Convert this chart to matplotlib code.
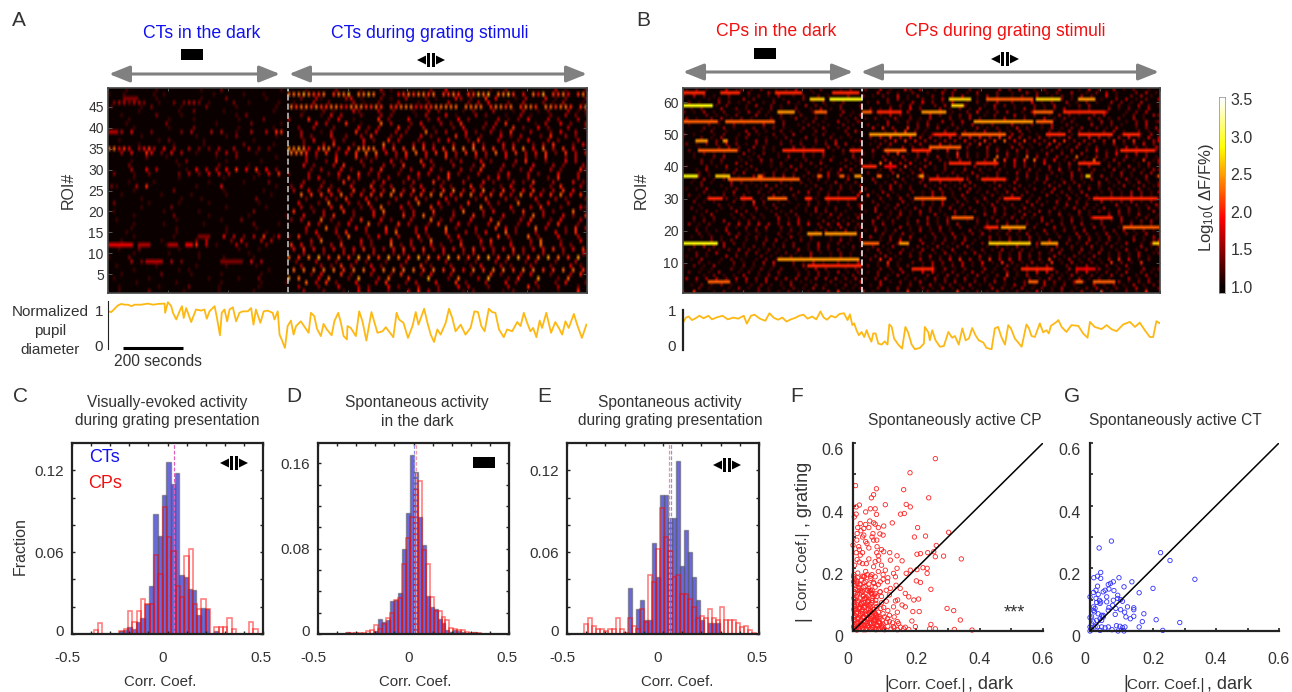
import numpy as np
import matplotlib
matplotlib.use('Agg')
import matplotlib.pyplot as plt
from matplotlib.patches import Rectangle, Polygon
from matplotlib.transforms import ScaledTranslation

plt.rcParams['font.family'] = ['Liberation Sans', 'DejaVu Sans']
plt.rcParams['mathtext.default'] = 'regular'
W, H = 1292, 692
TXT = '#333333'

# ---------- heat-map spots: digit = level (0-9), '.' = baseline; dark part | grating part; top row first
heat_a = [
"..1.....1........1...2...........1.|..1.....2....1...3.1.......2..4....1...1..2.........3.1....2",
"1..1.....1.1.........1.....1...1...|66676556.5667.6676.2..45656656.5565.55767.6675.4.647.5564.566",
"...2...1........1....2.......1.....|2..31....34.1...2.1..3...2.1...43.2..5.4...1.3...4.1.2...3.2",
"2332332..1..2.2332.1....2..1.....1.|1...3..2....3.1..2...3...1.2...3...2.3.4...2..3...2.1.3...1.",
"1.....1.2.....1....2.....1.......1.|6566565566546665565.55666445566666.6666.56656.5665.665665.56",
"...1.......1..2.....1.........1....|1...2.1...42...3..2...1..3.2....1.2...3...1.3..1.2...3.1...2",
".1......2....1..........1.2........|.2...1.4.3...2...3.2....1.3...4.1...3.2...1..3.1...2..3.2..1",
"....1.......1....1........1....2...|3...5...2.4..1....5.2...4...2.3...4.2.....3.1.2.4...3.2...3.",
"1.......2.........1......2.....1...|..4.3...5..1...6.3...2.4...3.2.5....2.3.5.....1.3..4.2...3..",
"...1......1....2........1......1...|2..3...2....4.2.3...5.2..3.1...2.4...2.3...5.2..4.2...3...2",
"553.4...2.....2.3...3.3..1..3..3.55|..3...1.3....5.2.4...3.2...6.2.3...4.2..3.2.5...3...2.4..3.",
"....1..........1.....1.2.......1...|3.2...4..2..3.5...2.3...4.2....5.3..2...4.2.3...2.5..3.2...",
".1.......1.2......1.........1......|..2.4...3.2...4.2..5.3...2...3.4...2.5...3...2.4...3.2...3.",
"...1......1.....1.......2.....1....|2...3.5...2.3...6.2...3.4.2...3...5.2...4.3...2.3.5...2.4..",
"66454.3453.4.3..3.2.2.3..3..3.2.2..|76764.566.3.5.6666.4.5.5.6.5.4.5.6.6.6.5.5.3.5.6.4.6.3.5.4.",
"..3.4..54.2.4.3..1...2.3.2...1.....|6665.3.5.2.4.5.6.6.4.3.5.6.4.5.5.3.5.5.3.6.4.5.3.4.5.2.5.3.4",
"......2...1.........1...2.......1..|..3.2...4...5.2.3...2.4...3...5.2...3.2...4...3.2.5...2.3..",
".1........1.2.......1......1.......|3...2.5....3.2...4.2...5.3...2.3...4.2....3.5...2...4.3...",
"...2.........1.......2.....1.......|..4.2...3.5...2...3.2.5...4.2...3...2.5...3.2...4...3.2...3",
"..3..4.3.....1.4.3.3.4.5.4.5.4.2...|..2.3...4.2...3.5...2.3...4.2...3.2.5...3...2.4...3.2...5.2",
".2...1..2.....2.3.2.4.4.3.....2.4.5|2...3...2.4...5.2.3...2...4.3...5.2...3...2.4...3.2...4...3",
"...1........1........1.....1.......|..3.4...2.5.3...2.3...4.2...3.5...2...3.4.2...3...2.5...3..",
".1....1..........1......1....2.....|3...2...5.2...3.4...2.3...5.2...3...4.2...3.2.5...3...4.2..",
"21...3.5.........1....4..........1.|2.4...3.2...4...5.2.3...2.4...3.2...5.3...2.4...3...2.5...3",
"....1.......2.........1.......1....|3..4.2.5.3..5.2.4.3.6.3.5.4.2.5.6.3.4.6.2.5.3.4.5.2.3.5.4.",
".1.......1.....1......1........1...|.6.5.5.4.6.3.4.5.5.6.5.3.5.6.6.4.5.6.4.5.5.3.6.5.4.5.6.4.5",
"...1.......1...1..........2........|2...3.2.5...4.2...3...5.2...4.3...2.5...3.2...4...3.2...5.2",
".2......1.....1.....1.........1....|..4...2.6...3.2.5...2...3.6...4.2...5...3.2...6...2.4...3..",
"....1.....2..........1.......1.....|3.2...4.5...2.3.6...4.2...5.2...3...6.2...4...3.5...2...4.2",
"1.........1......1..........2......|5...2.3...5.2...4.6...2.3...5...2.6...3.4...2.5...3.2...6..",
"..1.......2......1.......1.......1.|4...3.5...2...4.2...5.3.6.2...3...5.2...4...2.6.3...4.2...5",
".1...........1........1...2........|2.3...6.2...3.5...4.2...3...6.2.3...4...5.2...3.5...2.4...3",
"...1.....1.......1.........2....1..|..5.3...2.4...6.2...5.3...2.5...4.2...3.6...2.4...3.5...2..",
".1........1.........1.....1........|3...6.2...4.3...5.2...3.4...6.2...3...5.4.2...6.3...2.5...3",
"..1.........1.........1.......1....|..2.4...3.5...2...4.6...3.2...5...3.2.4...6.2...3...4.2.5..",
".....1.......1......2..4.3.2.3.5.14|2.5...3...2.6...2.4...3...5.2...3.4...2...5.3...6.2...4...3",
"1.......1......2.3....2.4...3.3....|..3.6...2...4.2...5...3.2.6...2.3...4.5...2...3.6...2...4..",
"66544.55...1.3.3.5.3.1...3.2...2...|5.4.2...3.5...3.2...6.2.3...4.2...5...2.3...4...2.6...3.2..",
".1...2.......1...........1...1.....|4.5.4.3.4.3.4.5.3.3.4.5.4.5.3.4.4.3.5.4.3.4.5.3.4.4.5.3.4.5",
"..1......1.....1.........1.........|3...2...3.2...3...2.3...2...3...2.3...2...3.2...3...2...3.2",
"1...2.............1....1.....1.....|6.5.6.7.5.6.5.7.6.5.7.6.5.7.6.5.7.6.5.6.7.5.6.7.5.6.7.6.5.7",
"...3.2.4.4.3.2.......2.5.4.4.3.....|2...3...2...3.2...2...3...2...3...1.2...3.2...2.3...2...3..",
".1.......1.......1.....1.....1.....|..3...3.2.5.3...4.2...3...5.2...3...2.4...3.2...3...2...4.2",
"....1........1.1...............1...|6.6.6.6.6.5.6.6.4.6.6.6.6.5.6.5.5.4.6.5.6.6.5.6.6.5.5.6.6.5",
"1.......2.....1.....1.......1......|..2.4...5.2...3...2.5...2.4...3...2...5.2...3.4...2...3.5..",
".1......1...........1.....1...2....|7.6...4.6...2.7...3.6...5...7...2.6...3.7...2.5...7...2.6..",
"..1.......1........1.......1.....1.|6.3.5.2...4...3.5...2.3...4...5.2...3...4.2...3...2.4...3.2",
"1.......1.....2.....1.......1......|3...2...4...3.2...4.2...3...2...4.3...2...3...5.2...3...2..",
".1.....2......1......1......1......|..3...2...1..4.3...2...3.5.3.2....1.2.....1.2...1....1...5.",
]
# sub-cell offset of each row's spots (half cells), as read from the staggered streaks
stagger_a = [3,0,5,2,1,6,3,0,7,4,1,5,2,6,0,1,3,7,2,5,0,4,6,1,2,3,7,0,5,2,6,1,4,7,3,0,5,1,2,6,0,3,1,2,5,0,7,4,2]

heat_b = [
"1.2.1...3.12.1.2..1.1.3..1.2...1.2.|2..3.1..42.3..1.2.3..2.1...3.2.4..1.2..3...1.4.2..3.1.2..1.",
"........1..2...3..1..2..1...2.1.2..|.3.2.1..2..1..3.2..1.3...2..1..3.2.1.2..3..1.2.3.1...2.3.1.",
"1.3.2.1..2...1.2.1.3..1.2..2.1...2.|3.1.2..4.1.3..2.1.2.3..1.3.2..1.2..3..1.2.1.3.2..4.1..2.3.1",
"..1.2.1..3.2...1.1...2.1.2.1...3.1.|..2.3.1..2.1.3.1.2..1.2.3..1.3.2.1...2.1.3.2.1..2.3.1.2...3",
"2.1...3.2.1.2..1.2..3.1..1.2.1.2...|1.3.2..1.3.4.2.1.3..1.2.1.3..2.1.4.1.2..3.1.2.1..3.2.1.3...",
"2..1.2...1.3..2.1..1.3.2.1..2...1.2|..1.2.3.1..2.3.1.2...1.3.2.1...2.1.3..1.2.3...1.2.1.3.2..1.",
"1.2...3..2.1..1.2.1..2..1.3.1.2...1|2.1.3.1.4.2...3.1.2.1.3..2...1.3.2.1.2.3..1.2...3.1.2.1.3..",
"2.1.3.1.2..1.3.2.1...2.1..2.1...3.1|3.1..2.1.3..1.2.3.1..2.4.1.2.3..1.3.1.2..3.1.2.1.3...1.2.3.",
"..2.1.1.2...3.1..2.1.2..1.1..2.1.3.|.1.3.2.1...3.2.1.2.3..1.2...3.1.2..1.3.2.1..2.3...1.2.1.3.2",
"3.1..2.3.1.2.1...2.1..3.1.2.1...1.2|1.2.1.3..2.1.3...2.1.3.2..1.3.1.2...3.1.2.1..3.2.1.2..3.1..",
"2.1.1...2.1.3..1.2...1.2.1..3.1.2.1|..3.1.2.1.2..3.1.3..2.1...3.2.1..2.3.1.2...1.3.2..1.2.3.1.2",
"1...2.1..2.1...3.1.2..1.2.1.1..2.1.|2.1.3...1.2.3.1..2.1.3.1.2...3.1.2.1.3..2.1..3.1.2.1..2.3..",
"..2.1.3.1...2.1.2.1...2.1.3..1.2...|4.5.3..5.2.1.3.1.2...3.1.2.1.4.2..1.3.1.2.3..2.1.3...1.2.3.",
"1.2..1...3.2.1..2.1.1..2.1...2.3.1.|.1.3.5.2.1...3.1.2.1.3..2.1.3.1...2.1.3.2.1..2.3.1..2.1.3.2",
"2.1...1.2..1.3.1..2.1.3...1.2.1..2.|1.2...3.1.2.1.3..2.1.3.1..2.1.3.2..1.2.3..1.2.1.3...1.2.1.3",
"..2.1.3..1.2...1.1.2...3.1..2.1.1..|2.3.5.3.4.3.3.2.4.3.4.4.3.5.4.3.2.3.2.1.3.1.4.3.2.3.4.2.4.3",
"1...2.1.1...3.2..1.2.1..2.1.3...1.2|1.2.4.5.4.3.2.3.3.4.2.5.5.6.4.5.3.2.5.5.2.3.3.3.5.2.5.1.3.4",
"2.1.2.2.3.2.1.2.1..2.1.2..1.2.4.3..|.1.2.3...1.3.1.4.2.1.3.5.2...1.3.1.2.4.3.1.3.2..1.3.1.2.4.2",
"1...2.3.2..3.2.1...3.2.1..3.2..1.1.|2.1..3.2.1.2..3.1.2.1.3.1..3.2.1..2.3.1.3.1.2...1.3.2.1.3.1",
"2.1.1...2.1.2..1.1.2..1.3..2.1.2.1.|.3.1.3.2..1.3.1.4.2.1...2.3.1.3.2..1.2.1.3..2.4.1.2.1.3.1.2",
"..1.2.1.1...3.1.2..1.1..2.1.3...1.2|2.1..3.5.1.2.3...1.5.2.1.2.1.3.1.2.1.3..2.1.3..1.2.4.1.3.2.",
"1...2.3..1.1.2...1.3..2.1.2.1...3.1|1.2.1.3..2.1.3.1.4.2.1.2.6.2.1.6.3.1.3.2.6.1.3.2.1.3.1.2.1.",
"2.1.2...1.1.3.2..1.1.2..1.3..2.1.2.|.3.1.2.1.3..2.1.3.1..2.6.5.4.5.6.3.4.1.2.1.6.1.3.2.1.5.1.3.",
"..2.1.1..3.2..1.1.2...1.2.3...1.1.2|1.6.5.3.4.1.3..2.1.3.1.2...1.3.2.1.4..1.3.2.1.3.1.2...1.3.2",
"1...2.1.3..1.2...1.1.3.2..1.1...2.1|2.5.2.5.5.1.3.1.2...1.3.1.2.1.3.2.1..3.1.2.1.3...2.1.3.1.2.",
"1.3...1.2.1.2...1.1.3.1..2.1.4.3.1.|.1.3.2.1.3..1.2.1.3..2.1.2...1.3.1.2.4.1.3..2.1.3.1.2.1.3.2",
"..2.1..1.2.3...1.2.1.1..2.1.3.2..1.|2.1..3.1.2.3...1.2.1.3.1..2.1.3.2.1..2.1.3.1.2...1.3.1.2.3.",
"2.1...2.1..3.2.2.3.2.1.1..3.1.2.1.2|3.1.6.1.2.1.3.1.2.1.3.1.2...1.3.1.2.1..3.2.1.3.1.2.1..3.1.6",
"..1.3.1.2.1...1.2.1.3.2..1.2.1...3.|1.3...1.2.1.3.1..2.1.3.1...2.1.3.1.2.3..1.2.1.3..2.1.3.1.2.",
"1.2.1...3.2.1.1...2.1.2.1..1.3.1.2.|.2.1.3.1..2.1.3.1.2.3..1.2.1.3...1.2.1.3.2.1..3.1.2.1.3.1.2",
"2...1.2..1.1.3.2.1...1.2..1.2.1.1.3|1.3.2.1..3.1.2.1.3.2..1.3.1.2.1...3.2.1.3.1.2..1.3.1.2.1.3.",
"1.1.3...1.2.1..1.2.1.3...1.2.1.2.1.|2..1.3.1.2...1.3.1.2.3.1..2.1.3.1.2.1.3..2.1.3.1.2.1...3.1.",
"..2.1.1.3..1.2.1.1...2.3.1.1.2..1.5|1.3.1...2.1.3.2.1..3.1.2.1.3.1.2..1.3.2.1.3...1.2.1.3.2.1.3",
"2.1.1..2.1.2...1.3.1.2..1.1.2.1...4|5.1.3.1.2..1.3.2.1.3...1.2.1.3.2.1..3.1.2.1.3.1..2.1.3.2.1.",
"1.1...2.1.3..1.1.2..1.2.1.3.1..2.1.|.2.1.3.1..2.1.3.1.2.1.3..2.1.3.1.2...1.3.1.2.1.3.2..1.3.1.2",
"..2.1.1...2.1.5.2..1.1...2.1.2.1.1.|1.2.1...3.1.2.1.3..2.1.3.1.2.1...3.2.1.3.1.2.1..3.1.2.3.1.2",
"1...2.1..1.3.1.2.1..1.2.1.1...2.1.3|2.1.3.1..2.1.3.1.2...1.3.1.2.1.3.2..1.3.1.2.1...3.1.2.1.3.1",
"2.1...1.2.1..3.1.2...1.1.3.1.2..1.2|.3.1.2.1.3..2.1.3.1.2..1.3.2.1.3.1...2.1.3.2.1.3..1.2.1.3.1",
"..1.2.1...3.2.1..1.1.2..1.3.2.1.1..|1.3..1.2.1.3.2.1..3.1.2.1.3.1..2.1.3.2.1...3.1.2.1.3.2.1..3",
"1.3...1.2.1.1..2.1.2..1.1.3.2..1.2.|2.1.3.1.2..3.1.2.1...3.1.2.1.3.2..1.3.1.2.1...3.2.1.3.1.2.1",
"2.1.2...1.1.2.1..3.1.2...1.1.2.1.3.|.3.1.2.1...3.1.2.1.3.1..2.1.3.2.1.3...1.2.1.3.1.2.3..1.2.1.",
"..1.2.1.3..1.2.1...2.1.3.1..2.1.1.1|1.3.1.2..1.3.2.1.3...1.2.1.3.1.2.1..3.2.1.3.1...2.1.3.1.2.3",
"3.1.2...3.4.3.4.3.2.3.3.4.2.3.4.3.2|.2.3.1..2.1.3.1.2.3...1.2.1.3.1.2.1.3..2.1.3.1.2...1.3.1.2.",
"1.1...2.1.2.1.3..2.1.1...2.1.3..1.2|2.1..3.1.2.1.3.1.2..1.3.2.1.3.1.2...3.1.2.1.3.2..1.3.1.2.1.",
"..2.1.1.3...1.2.1..1.2.1..1.2.1.3.1|1.3.1.2..1.3.1.2.1...3.1.2.1.3.2.1..3.1.2.1.3...1.2.3.1.2.1",
"2.1...3.2.1.1...2.1.1.2.1..3.1.2.1.|.2.1.3.1...2.1.3.1.2.3..1.2.1.3.1.2.1...3.2.1.3.1.2.1.3..1.",
"1.1.2.1..3.1.2.1..1.3.1.2...1.1.1.2|3.1.2.1.3..1.2.1.3.2..1.3.1.2.1.3.1...2.1.3.2.1.3.1..2.1.3.",
"..2.1.2..1.1.2.3.1..2.1...1.3.1.1.2|1.2.4.1.3..1.2.1.3.1..2.1.3.1.2.1.3...2.1.3.1.2.1..3.1.2.3.",
"2.1.1...3.2.1...2.1.1.2..1.3.1.2.1.|.1.3.1.2.1..3.1.2.1.3.1.2..1.3.2.1.3.1...2.1.3.1.2.1.3..1.2",
"2.3.2.3...1.2.1.1.2.2..1.3.2..1.2.1|2.1.3..1.2.1.3.1.2.3...1.2.1.3.1.2.1.3..2.1.3.1.2.1...3.1.2",
"1...2.1.2.3.2.1.2.1...3.1.2.1.2..1.|1.3.1..2.1.3.2.1.3...1.2.1.3.1.2.1...3.2.1.3.1.2..1.3.1.2.1",
"2.1.3...1.2.2.1.1.2.1..3.1.1.2.1.1.|.2.1.3.1.2..1.3.1.2.3.1..2.1.3.1.2.1.3...2.1.3.1.2.1.3..1.2",
"1.2.1...3.2.1..2.1.1.2.1.3...1.2.1.|1.2.3.1..2.1.3.1.2.1...3.1.2.1.3.2.1..3.1.2.1.3..1.2.1.3.1.",
"1.3...1.2.1..1.2.1.1.3.2.1...1.2.1.|2.5.4.1...3.1.2.4.5.3.2.5.3.4.3.1.2.5.1.3.1.2.1.3.5.4.1.2..",
"2.1.1..2.1.1.3.4...2.1.3.1..2.1.3.1|1.5.1..2.1.3.2.1.3.1.4.1.5.2.1.3.1.5.1.3.1.2.1.5.2.1.5...",
"1.2.1.3...1.2.1.1.2...1.3.1.2.1.1..|.2.1.3.1.2..1.3.1.2.3.1.2..1.3.1.2.1.3...2.1.3.1.2.1.3..1.",
"1.1...2.1.1.2.1.2..1.1.3.2...1.2.1.|2.1.3..1.2.1.3.1.2...3.1.2.1.3.1.2.1..3.2.1.3.1.2.1..3.1.2",
"2.1.1.3...1.2.1.1.2...1.1.2.1.3.1.2|1.2..1.3.1.4.4.1.2.1.3.2.1..3.1.2.4.4.2.1.3.4.1.2.1.3..2.1",
"..1.2.1.1.3..1.2.1...2.1.2.1..1.2.1|.2.1.3.1...2.1.3.2.1.3.1.2.5.1.3.1..2.1.3.1.2.1.3.2..1.3.1",
"3.3.3.3.2.3.3.2.3.3.3.3.2.3.3.3.2.3|1.2.3...1.2.1.3.2.1.3.1.2.1.3.1..2.1.3.2.1.3.1.2.1...3.1.2",
"1...2.1.1.2.1.3..1.2.1.1...2.1.1.3.|.3.1.2.1.3..1.2.3.1.2.1.3.1...2.1.3.2.1.3.1.2..1.3.1.2.3.1",
"1.2.1.2.1...1.2.1.1.3..1.2.1.1.2.1.|1.3...1.2.1.3.1.2.1.3.1.2..1.3.2.1.3.1.2.1...3.1.2.1.3.1.2",
"2.1...1.3.1.2.1..1.2.1.3.2...1.1.2.|2.1.3.1..2.1.3.1.2.1...3.2.1.3.1.2.1.3..1.2.3.1.2.1.3.1..2",
"1.5...1.2.1.1..2.1.1.2.1.1...3.5.1.|5.1..2.1.5.1.2.1...5.1.2.1.3.1.2.1.4..1.2.1.3.1.5.1..2.1.5",
]
stagger_b = [1,4,0,6,2,7,3,0,5,1,6,2,4,7,0,3,5,1,6,2,0,4,7,3,1,5,2,6,0,3,7,1,4,2,5,0,6,3,1,7,4,0,2,5,1,6,3,7,0,4,2,5,1,3,6,0,7,2,4,1,5,3,6,0,2]

# continuous bright bands: ROI, start (s), end (s), level
bands_a = [(12,4,80,4),(12,100,138,3),(12,208,225,3),(12,265,280,4),(39,4,28,3),(47,50,90,2),(8,130,183,3),(8,375,445,2),(14,305,340,2)]
bands_b = [(63,4,70,5),(63,130,190,5),(63,310,400,5),(63,500,590,5),
 (61,429,471,8),(61,493,597,9),(61,897,961,8),(61,1019,1169,6),(61,1190,1261,8),(61,1326,1383,7),
 (59,4,97,9),(59,904,940,8),
 (57,319,369,7),(57,447,483,6),(57,604,626,6),(57,654,726,5),(57,804,876,7),(57,1183,1240,6),(57,1283,1411,5),
 (54,4,111,6),(54,147,304,6),(54,983,1169,7),(54,1190,1240,6),
 (50,626,776,7),(50,847,911,5),(50,940,1083,6),(50,1219,1276,5),(50,1326,1440,5),(50,1476,1526,5),
 (48,43,83,7),(48,140,150,7),
 (45,57,176,6),(45,340,469,5),(45,561,597,5),(45,683,747,6),(45,769,826,5),(45,1469,1583,5),(46,826,926,6),
 (41,897,960,5),(41,990,1054,5),(41,1333,1397,5),(40,604,640,5),(40,683,711,4),
 (37,4,47,9),(37,111,154,8),(37,254,265,6),(37,454,465,6),(37,526,536,6),(37,583,597,7),(37,654,665,6),(37,794,804,7),(37,1351,1361,8),
 (36,154,390,6),(36,826,940,5),(36,1004,1076,5),
 (30,90,133,5),(30,197,233,5),(30,290,347,6),(30,411,433,5),(30,483,583,5),(30,776,880,6),(30,1076,1133,5),(30,1376,1590,5),
 (24,904,969,6),(24,1376,1440,5),(21,1019,1054,5),(21,1069,1147,7),(21,1483,1594,6),
 (19,419,461,7),(19,483,576,7),
 (16,4,111,9),(16,604,654,6),(16,726,754,7),(16,1026,1161,8),(16,1204,1254,7),(16,1583,1600,8),
 (11,322,590,7),(9,419,597,5),(8,769,840,5),(8,1140,1240,5),(8,1320,1380,4),
 (4,90,154,6),(4,1161,1190,6),(4,1319,1340,6),(4,1376,1447,6)]

# ---------- pupil traces
pupil_a_time = [0,11,22,33,44,56,67,78,89,111,133,150,167,189,191,200,211,217,228,239,247,253,261,278,283,294,311,322,330,339,356,364,374,380,389,398,406,417,428,439,450,467,478,486,494,509,520,533,550,556,567,573,580,591,600,611,620,628,644,661,670,678,689,698,711,720,731,747,756,769,778,787,798,
 800,811,828,839,850,863,880,889,900,917,928,942,953,964,972,987,1002,1017,1028,1037,1056,1067,1078,1089,1100,1111,1128,1139,1150,1161,1178,1194,1211,1224,1236,1247,1258,1272,1283,1294,1306,1322,1333,1350,1367,1378,1389,1400,1411,1420,1431,1442,1450,1464,1480,1494,1506,1517,1528,1539,1556,1567,1583,1598]
pupil_a_vals = [.99,.97,1.06,1.15,1.19,1.17,1.17,1.13,1.17,1.17,1.2,1.17,1.19,1.2,.95,1.24,1.13,.95,.77,.99,1.13,.81,1.08,.70,.81,1.04,1.01,1.04,.79,.99,1.13,.81,.34,.95,1.04,.72,1.04,1.1,.72,.95,.99,.99,1.08,.63,1.04,.68,.99,1.01,.95,.77,.99,.36,.23,0,.59,.74,.36,.59,.72,.52,.41,.95,.86,.52,.32,.65,.5,.34,.72,.95,.68,.32,.23,
 .59,.54,.32,.99,.72,.2,.97,.72,.41,.45,.56,.41,.29,.95,.77,.68,.27,.59,.97,.63,1.06,.68,.36,.16,.5,.36,.68,1.06,.81,.45,.63,.36,.54,.99,.97,.59,.45,1.06,.97,.95,.5,.29,.5,.45,.7,.59,.95,.68,.45,.54,.29,.74,.54,.95,.41,.7,.54,.36,.72,.54,.92,.63,.27,.63]
pupil_b_time = [0,10,19,30,40,55,69,85,97,115,133,150,169,185,204,214,228,240,258,276,290,305,319,333,347,362,376,390,404,418,433,447,461,472,483,497,511,525,540,
 543,552,560,568,574,582,590,599,608,616,623,632,638,646,655,666,677,686,692,700,708,722,735,746,755,767,778,795,808,811,823,828,836,847,862,875,890,903,912,925,937,948,959,970,981,992,1007,1018,1035,1046,1057,1068,1080,1091,1100,1113,1136,1152,1160,1169,1180,1197,1208,1219,1227,1234,1253,1259,1270,1286,1303,1326,1342,1357,1365,1381,1404,1421,1437,1454,1477,1499,1516,1532,1549,1566,1577,1588,1600]
pupil_b_vals = [.71,.85,.88,.78,.82,.9,.83,.9,.8,.86,.9,.8,.85,.82,.9,.68,.9,.93,.82,.76,.97,.84,.79,.85,.74,.8,.84,.9,.93,.82,.88,.8,1.02,.85,.79,.9,.85,.95,.97,
 .92,.78,.94,.64,.69,.5,.36,.45,.31,.5,.34,.18,.41,.41,.13,.1,.19,.1,.66,.59,.27,.1,-.01,.59,.44,.1,-.03,.01,.13,.59,.44,.22,.5,.22,.04,.06,.45,.29,.34,.1,.55,.22,.27,.56,.36,.22,.16,.01,-.03,.55,.59,.31,.1,.64,.55,.27,.04,.66,.56,.34,.31,.69,.44,.5,.41,.62,.73,.78,.59,.45,.64,.62,.41,.29,.73,.59,.53,.64,.53,.47,.66,.73,.59,.71,.5,.31,.31,.75,.69]

# ---------- histograms
c_ct = [.002,.003,.005,.004,.009,.012,.022,.035,.088,.072,.102,.126,.11,.118,.043,.042,.033,.032,.014,.019,.018,0,.002]
c_cp = [.003,.008,0,0,0,0,.002,.004,.017,.009,.017,.026,.022,.022,.058,.044,.093,.071,.061,.035,.027,.057,.062,.022,.018,.026,.018,0,.005,.005,.005,.012,.004,0,0,0,.009,.004]
d_ct = [.002,0,0,0,0,.001,0,.003,.014,.011,.013,.031,.032,.038,.08,.113,.168,.152,.11,.083,.036,.025,.023,.014,.01,.004,.002,.004,.003,.002,.001,.001,.002,.001]
d_cp = [.001,.001,.001,.001,.001,.003,.004,.008,.005,.009,.015,.02,.032,.034,.066,.09,.11,.135,.143,.079,.066,.035,.022,.022,.016,.013,.006,.005,.004,.004,.002,.001,.001,.001]
e_ct = [.034,0,.018,.025,.01,.01,.067,.042,.102,.102,.085,.085,.127,.05,.076,.06,.042,.025,.01,0,.008,.008,.008]
e_cp = [.007,.012,.006,.004,.004,.002,.004,.004,.012,.004,.001,.012,.006,.004,.018,.009,.043,.038,.062,.092,.071,.061,.042,.043,.029,.029,.026,.02,.012,.013,.012,.018,.012,.01,.02,.01,.01,.01,.008,.005,.006,.003,.001]
c_starts = (-.255, -.387); d_starts = (-.355, -.355); e_starts = (-.183, -.412)
hist_widths = (.0226, .0209, .0208)

# ---------- scatter
f_dark = [.26,.18,.008,.074,.16,.065,.058,.239,.102,.168,.181,.02,.01,.01,.004,.07,.055,.04,.074,.15,.162,.124,.097,.023,.034,.053,.07,.204,.302,.194,.229,.095,.063,.034,.013,0,.018,.076,.044,.065,.263,.097,.116,.342,.286,.26,.236,.255,.202,.213,.139,.155,.118,.023,.013,.042,.07,.081,.234,.221,.181,.168,.202,.234,.139,.102,.128,.134,.055,.034,.002,.002,.2,.213,.109,.136,.086,.07,.246,.149,.165,.118,.086,.055,.023,.007,.207,.192,.176,.134,.141,.297,.318,.339,.209,.189,.165,.155,.128,.097,.186,.246,.376,.32,.26,.242,.197,.176,.165,.144,.128,.109,.092,.076,
 .01,.02,.03,.04,.05,.06,.07,.08,.09,.1,.11,.12,.13,.14,.15,.16,.005,.015,.025,.035,.045,.055,.065,.075,.085,.095,.105,.115,.125,.14,.005,.015,.025,.035,.045,.055,.065,.075,.085,.1,.115,.13,.005,.012,.022,.03,.04,.05,.06,.07,.08,.095,.11,.14,.003,.012,.02,.03,.038,.048,.056,.066,.075,.088,.004,.014,.024,.034,.044,.05,.06,.072,.09,.105,.003,.012,.022,.032,.04,.048,.06,.075,.09,.115,.005,.015,.03,.045,.06,.07,.085,.105,.005,.012,.022,.035,.05,.065,.08,.095,.11,.003,.015,.03,.04,.06,.08,.095,.005,.02,.03,.05,.065,.08,.09,.01,.02,.03,.05,.075,.09,.012,.03,.04,.06,.075,.085,.015,.025,.04,.05,.065,.08,
 .004,.012,.018,.026,.033,.042,.048,.056,.063,.072,.078,.086,.094,.002,.009,.016,.023,.03,.038,.046,.053,.061,.068,.076,.083,.091,.003,.01,.018,.027,.034,.041,.049,.058,.064,.071,.08,.002,.008,.016,.024,.031,.039,.044,.052,.059,.067,.074,.004,.011,.02,.028,.035,.043,.051,.057,.065,.073,.082,.006,.013,.021,.029,.037,.046,.055,.062,.007,.017,.027,.036,.047,.054,.063,.072,.005,.014,.025,.033,.042,.052,.061,.07,.008,.019,.028,.038,.047,.058,.068,.004,.013,.022,.032,.041,.05,.06,.006,.015,.026,.036,.045,.056,.066]
f_grating = [.55,.505,.464,.454,.451,.435,.425,.425,.403,.404,.396,.402,.396,.373,.364,.39,.39,.38,.372,.373,.375,.345,.335,.343,.327,.351,.341,.33,.315,.3,.303,.306,.311,.306,.311,.274,.269,.269,.279,.29,.273,.253,.25,.23,.239,.237,.25,.253,.245,.247,.24,.224,.226,.242,.228,.215,.221,.226,.2,.202,.194,.184,.196,.184,.2,.194,.184,.173,.175,.173,.173,.157,.16,.155,.157,.146,.157,.173,.133,.136,.12,.136,.125,.13,.13,.12,.102,.099,.109,.096,.099,.072,.065,.035,.062,.062,.077,.083,.077,.075,.032,.021,.003,.005,.007,.007,.014,.005,.012,.024,.014,.04,.035,.046,
 .01,.005,.01,.004,.012,.006,.01,.005,.012,.004,.015,.006,.01,.004,.012,.007,.02,.025,.022,.02,.025,.022,.026,.02,.025,.022,.028,.03,.026,.03,.035,.04,.036,.042,.038,.04,.036,.042,.04,.045,.05,.045,.05,.055,.05,.056,.052,.058,.052,.056,.06,.055,.065,.06,.07,.068,.072,.068,.075,.07,.076,.07,.078,.072,.085,.09,.085,.09,.086,.095,.09,.088,.09,.095,.105,.11,.105,.11,.105,.112,.105,.11,.11,.115,.125,.13,.125,.13,.12,.14,.125,.13,.15,.16,.15,.155,.15,.155,.148,.165,.17,.18,.185,.175,.19,.18,.19,.18,.21,.22,.215,.23,.205,.24,.21,.25,.26,.25,.265,.25,.26,.29,.3,.285,.3,.29,.31,.33,.32,.34,.33,.345,.33,
 .006,.003,.008,.015,.004,.009,.018,.006,.011,.004,.016,.008,.013,.014,.02,.012,.028,.018,.031,.016,.027,.012,.033,.019,.029,.017,.035,.026,.042,.022,.046,.03,.038,.024,.044,.032,.028,.043,.048,.038,.055,.044,.062,.036,.058,.047,.034,.05,.066,.06,.07,.064,.074,.056,.08,.061,.068,.052,.046,.078,.083,.075,.088,.08,.092,.066,.058,.1,.096,.09,.104,.094,.085,.11,.098,.08,.118,.122,.113,.108,.126,.098,.12,.133,.138,.128,.142,.13,.119,.115,.145,.152,.147,.14,.158,.136,.13,.165,.17,.162,.175,.18,.168,.152]
g_dark = [.029,.068,.224,.254,.333,.2,.156,.133,.092,.074,.065,.058,.034,.024,.034,.012,.024,.108,.06,.076,.048,.042,.026,.011,.019,0,.019,.03,.034,.021,.053,.053,.074,.088,.088,.097,.103,.072,.06,.058,.097,.082,.119,.139,.139,.11,.08,.171,.114,.128,.139,.166,.21,.285,.156,.231,.084,.095,.103,.111,.108,.089,.07,.058,.048,.037,.024,.032,.011,.016,.014,.026,.037,.042,.032,0,.005,.011,.021,.005,0,.005,0,.016,.037,.042,.032,.011]
g_grating = [.265,.287,.25,.225,.165,.136,.122,.157,.17,.157,.152,.148,.187,.175,.168,.17,.143,.141,.134,.129,.13,.125,.117,.123,.13,.109,.104,.098,.093,.091,.109,.093,.098,.114,.104,.1,.095,.082,.075,.066,.068,.072,.077,.074,.068,.06,.053,.055,.045,.039,.047,.03,.036,.027,.013,.002,.017,.015,.011,.013,0,0,.004,.013,.01,.013,.013,.002,.077,.072,.061,.055,.05,.045,.039,.043,.045,.029,.034,.023,.013,.004,0,.013,.034,.05,.088,.066]

fig = plt.figure(figsize=(W/100, H/100), dpi=100, facecolor='white')
LEVEL = .21

def axpx(l, t, r, b, **kw):
    return fig.add_axes([l/W, 1-b/H, (r-l)/W, (b-t)/H], **kw)

def shift(lbl, dx, dy):
    lbl.set_transform(lbl.get_transform() + ScaledTranslation(dx/100, -dy/100, fig.dpi_scale_trans))

def parse(rows, stagger, bands):
    n = len(rows)
    M = np.ones((n, 192))
    for i, r in enumerate(rows):
        d, g = r.split('|')
        s = d.ljust(36, '.')[:36] + g.ljust(60, '.')[:60]
        off = stagger[i % len(stagger)]
        for j, c in enumerate(s):
            if c != '.':
                k = 2*j + off
                if j < 36:
                    k = min(k, 71)
                M[i, min(k, 191)] = 1.0 + LEVEL*int(c)
    for roi, t0, t1, lev in bands:
        i = n - roi
        M[i, int(t0/1600*192):int(np.ceil(t1/1600*192))] = 1.0 + LEVEL*lev
    return M

def heat(rect, rows, stagger, bands, ticks, linecol):
    ax = axpx(*rect)
    n = len(rows)
    ax.imshow(parse(rows, stagger, bands), aspect='auto', cmap='hot', vmin=1.0, vmax=3.5,
              extent=[0, 1600, .5, n+.5], origin='upper', interpolation='bilinear')
    ax.axvline(600, color=linecol, ls=(0, (4, 2)), lw=1.1)
    ax.set_yticks(ticks)
    ax.set_xticks(np.arange(0, 1601, 200))
    ax.set_xticklabels([])
    ax.tick_params(axis='y', direction='in', length=3, width=.7, color='#555555',
                   labelsize=10, labelcolor=TXT, pad=3, right=True)
    ax.tick_params(axis='x', direction='in', length=2, width=.7, color='#555555', top=True)
    for s in ax.spines.values():
        s.set_color('#444444'); s.set_linewidth(1.2)
    return ax

heat((108, 88, 587, 293), heat_a, stagger_a, bands_a, np.arange(5, 46, 5), '#cccccc')
heat((683, 88, 1160, 293), heat_b, stagger_b, bands_b, np.arange(10, 61, 10), 'white')

def pupil(rect, t, v, ymin, ymax, lw_sp):
    ax = axpx(*rect)
    n = min(len(t), len(v))
    ax.plot(t[:n], v[:n], color='#fdb813', lw=1.3, solid_joinstyle='round')
    ax.set_xlim(0, 1600); ax.set_ylim(ymin, ymax)
    ax.set_xticks([]); ax.set_yticks([])
    for k in ('top', 'right', 'bottom'):
        ax.spines[k].set_visible(False)
    ax.spines['left'].set_linewidth(lw_sp); ax.spines['left'].set_color('#222222')
    ax.patch.set_alpha(0)
    return ax

pupil((108, 301, 587, 349), pupil_a_time, pupil_a_vals, -.03, 1.27, .8)
pupil((683, 310, 1160, 350), pupil_b_time, pupil_b_vals, -.05, 1.06, 1.6)

# colour bar
cb = axpx(1219, 97, 1225, 293)
cb.imshow(np.linspace(3.53, .92, 256)[:, None], aspect='auto', cmap='hot', vmin=1, vmax=3.5,
          extent=[0, 1, .92, 3.53])
cb.set_xticks([])
cb.yaxis.tick_right()
cb.set_yticks([1, 1.5, 2, 2.5, 3, 3.5])
cb.set_yticklabels(['1.0', '1.5', '2.0', '2.5', '3.0', '3.5'])
cb.tick_params(axis='y', length=0, labelsize=11.5, labelcolor=TXT, pad=4)
for s in cb.spines.values():
    s.set_linewidth(.5); s.set_color('#888888')

def hist(rect, ct, cp, starts, width, ymax, yt, yminor, labs, means):
    ax = axpx(*rect)
    ex = np.arange(len(ct))*width + starts[0] + width/2
    ax.bar(ex, ct, width, color=(.1, .1, .8, .65), edgecolor=(.35, .35, .35, .55), lw=1)
    ex = np.arange(len(cp))*width + starts[1] + width/2
    ax.bar(ex, cp, width, facecolor='none', edgecolor=(1, 0, 0, .5), lw=1.2)
    for m, c in means:
        ax.axvline(m, color=c, ls=(0, (3, 1.5)), lw=.9)
    ax.set_xlim(-.5, .5); ax.set_ylim(0, ymax)
    ax.set_xticks([-.5, 0, .5]); ax.set_xticklabels(['-0.5', '0', '0.5'])
    ax.set_xticks(np.arange(-.4, .41, .1), minor=True)
    ax.set_yticks(yt); ax.set_yticklabels(labs)
    ax.set_yticks(yminor, minor=True)
    ax.tick_params(which='both', direction='in', length=2.5, width=1, top=True, right=True, color='#222222')
    ax.tick_params(axis='x', which='major', labelsize=11, labelcolor=TXT, pad=12)
    ax.tick_params(axis='y', which='major', labelsize=11, labelcolor=TXT, pad=6)
    for s in ax.spines.values():
        s.set_linewidth(1.6); s.set_color('#222222')
    xl = ax.get_xticklabels()
    shift(xl[0], -5, 0); shift(xl[1], -5, 0); shift(xl[2], -2, 0)
    shift(ax.get_yticklabels()[0], 0, -4)
    return ax

w = hist_widths
hist((72, 443, 263, 634), c_ct, c_cp, c_starts, w[0], .14, [0, .06, .12], [.02, .04, .08, .1],
     ['0', '0.06', '0.12'], [(.035, '#e060c0')])
hist((318, 443, 509, 634), d_ct, d_cp, d_starts, w[1], .179, [0, .08, .16], [.02, .04, .06, .1, .12, .14],
     ['0', '0.08', '0.16'], [(.0, '#9090e8'), (.012, '#f0a0a0')])
hist((567, 443, 759, 634), e_ct, e_cp, e_starts, w[2], .14, [0, .06, .12], [.02, .04, .08, .1],
     ['0', '0.06', '0.12'], [(.03, '#f09090'), (.04, '#9090e8')])

def scatter(rect, x, y, col):
    ax = axpx(*rect)
    n = min(len(x), len(y))
    ax.scatter(x[:n], y[:n], s=10, facecolors='none', edgecolors=col, linewidths=.6, clip_on=False, zorder=2)
    ax.plot([0, .6], [0, .6], color='black', lw=1.1, zorder=3)
    ax.set_xlim(0, .6); ax.set_ylim(0, .6)
    ax.set_xticks([0, .2, .4, .6]); ax.set_yticks([0, .2, .4, .6])
    ax.set_xticklabels(['0', '0.2', '0.4', '0.6']); ax.set_yticklabels(['0', '0.2', '0.4', '0.6'])
    ax.set_yticks([.1, .3, .5], minor=True); ax.set_xticks([.1, .3, .5], minor=True)
    ax.tick_params(which='both', direction='in', length=2.5, width=1.2, color='#222222')
    ax.tick_params(axis='x', which='major', labelsize=11.5, labelcolor=TXT, pad=15)
    ax.tick_params(axis='y', which='major', labelsize=11.5, labelcolor=TXT, pad=7)
    for k in ('top', 'right'):
        ax.spines[k].set_visible(False)
    for k in ('left', 'bottom'):
        ax.spines[k].set_linewidth(1.6); ax.spines[k].set_color('#222222')
    ax.patch.set_alpha(0)
    xl = ax.get_xticklabels(); yl = ax.get_yticklabels()
    shift(xl[0], -5, 0)
    for i, l in enumerate(yl):
        shift(l, 0, 6 if i else 5)
    return ax

scatter((853, 443, 1043, 631), f_dark, f_grating, '#ff2020')
scatter((1090, 443, 1279, 631), g_dark, g_grating, '#3030ff')

# ---------- overlay: text and drawn annotations
ov = fig.add_axes([0, 0, 1, 1], zorder=10)
ov.set_xlim(0, W); ov.set_ylim(H, 0); ov.axis('off'); ov.patch.set_alpha(0)

def T(x, y, s, size=10, color=TXT, ha='center', va='center', rot=0):
    ov.text(x, y, s, fontsize=size, color=color, ha=ha, va=va, rotation=rot)

for s, x, y in [('A', 19, 21), ('B', 643, 21), ('C', 20, 396), ('D', 294, 396), ('E', 544, 396), ('F', 797, 396), ('G', 1072, 396)]:
    T(x, y, s, 15)

T(202, 33, 'CTs in the dark', 12.7, '#1010f0')
T(430, 33, 'CTs during grating stimuli', 12.7, '#1010f0')
T(776, 32, 'CPs in the dark', 12.7, '#f01010')
T(1005, 32, 'CPs during grating stimuli', 12.7, '#f01010')

def darrow(x0, x1, y):
    ov.annotate('', xy=(x0, y), xytext=(x1, y),
                arrowprops=dict(arrowstyle='<|-|>,head_length=1.25,head_width=.5', color='#808080', lw=2.2, shrinkA=0, shrinkB=0))

for x0, x1, y in [(109, 280, 74), (289, 587, 74), (683, 853, 72), (861, 1159, 72)]:
    darrow(x0, x1, y)

def blackbox(x0, y0, x1, y1):
    ov.add_patch(Rectangle((x0, y0), x1-x0, y1-y0, color='black', lw=0))

def grating(cx, cy):
    ov.add_patch(Polygon([[cx-14, cy], [cx-5, cy-4.5], [cx-5, cy+4.5]], color='black', lw=0))
    ov.add_patch(Polygon([[cx+14, cy], [cx+5, cy-4.5], [cx+5, cy+4.5]], color='black', lw=0))
    ov.add_patch(Rectangle((cx-4, cy-7), 3, 14, color='black', lw=0))
    ov.add_patch(Rectangle((cx+1, cy-7), 3, 14, color='black', lw=0))

blackbox(181, 49, 203, 60); blackbox(754, 48, 776, 59); blackbox(473, 457, 495, 468)
grating(431, 60); grating(1005, 59); grating(234, 463); grating(727, 465)

T(68, 190, 'ROI#', 11.5, rot=90)
T(641, 190, 'ROI#', 11.5, rot=90)
T(1206, 198, 'Log$_{10}$( ΔF/F%)', 12, rot=90)

T(50, 312, 'Normalized', 11); T(50, 331, 'pupil', 11); T(50, 350, 'diameter', 11)
T(99, 312, '1', 11); T(99, 347, '0', 11)
T(672, 312, '1', 11); T(672, 347, '0', 11)
ov.plot([123, 183], [347.5, 347.5], color='black', lw=2.2, solid_capstyle='butt')
T(158, 362, '200 seconds', 11.2)

T(167, 402, 'Visually-evoked activity', 11.2); T(167, 421, 'during grating presentation', 11.2)
T(417, 402, 'Spontaneous activity', 11.2); T(417, 421, 'in the dark', 11.2)
T(670, 402, 'Spontaneous activity', 11.2); T(670, 421, 'during grating presentation', 11.2)
T(955, 420, 'Spontaneously active CP', 11.2)
T(1175, 420, 'Spontaneously active CT', 11.2)

T(105, 458, 'CTs', 13, '#1010f0'); T(105, 484, 'CPs', 13, '#f01010')
T(20, 546, 'Fraction', 11.5, rot=90)
T(160, 682, 'Corr. Coef.', 10.8); T(415, 682, 'Corr. Coef.', 10.8); T(677, 682, 'Corr. Coef.', 10.8)
T(1014, 613, '***', 13)

def corr_x(x, y):
    T(x, y, '|', 13, ha='left'); T(x+4, y+1, 'Corr. Coef.|', 11, ha='left')
    T(x+84, y, ', dark', 13, ha='left')
corr_x(884, 684); corr_x(1123, 684)
ov.text(803, 621, '|', fontsize=13, color=TXT, rotation=90, ha='center', va='bottom')
ov.text(803, 610, 'Corr. Coef.|', fontsize=11, color=TXT, rotation=90, ha='center', va='bottom')
ov.text(803, 527, ', grating', fontsize=13, color=TXT, rotation=90, ha='center', va='bottom')

fig.savefig('out.png', dpi=100)
